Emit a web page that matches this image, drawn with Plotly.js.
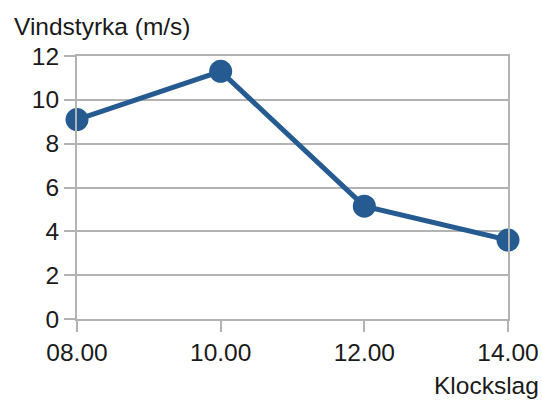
<!DOCTYPE html>
<html><head><meta charset="utf-8">
<script src="https://cdn.plot.ly/plotly-3.0.1.min.js"></script>
<style>html,body{margin:0;padding:0;background:#fff}#c{width:542px;height:401px}</style>
</head><body><div id="c"></div>
<script>
const categories = ["08.00", "10.00", "12.00", "14.00"];
const windSpeed = [9.1, 11.3, 5.15, 3.6];
const yTicks = [0, 2, 4, 6, 8, 10, 12];
const yTitle = "Vindstyrka (m/s)";
const xTitle = "Klockslag";

const font = {family: "Liberation Sans, Arial, sans-serif", size: 24.5, color: "#1a1a1a"};
Plotly.newPlot("c", [{
  x: categories, y: windSpeed, type: "scatter", mode: "lines+markers",
  line: {color: "#255b91", width: 5},
  marker: {color: "#255b91", size: 23},
  cliponaxis: false,
  hoverinfo: "none"
}], {
  width: 542, height: 401,
  margin: {l: 77, r: 34, t: 56, b: 82},
  paper_bgcolor: "#fff", plot_bgcolor: "#fff",
  showlegend: false,
  font: font,
  xaxis: {type: "category", range: [0, 3], showgrid: false, zeroline: false,
    showline: true, linecolor: "#b3b3b3", linewidth: 2, mirror: true,
    ticks: "outside", ticklen: 11, tickcolor: "#b3b3b3", tickwidth: 2,
    tickfont: font, fixedrange: true},
  yaxis: {range: [0, 12], tickvals: yTicks, showgrid: true, gridcolor: "#b3b3b3", gridwidth: 2,
    zeroline: false, showline: true, linecolor: "#b3b3b3", linewidth: 2, mirror: true,
    ticks: "outside", ticklen: 11, tickcolor: "#b3b3b3", tickwidth: 2, tickfont: font, fixedrange: true},
  annotations: [
    {text: yTitle, xref: "paper", yref: "paper", x: -65/431, y: 1, xanchor: "left", yanchor: "bottom",
     yshift: 14, showarrow: false, font: {family: font.family, size: 24.5, color: "#1a1a1a"}},
    {text: xTitle, xref: "paper", yref: "paper", x: 1, y: 0, xanchor: "right", yanchor: "top",
     xshift: 33, yshift: -51, showarrow: false, font: {family: font.family, size: 24.5, color: "#1a1a1a"}}
  ]
}, {displayModeBar: false, staticPlot: true});
</script></body></html>
